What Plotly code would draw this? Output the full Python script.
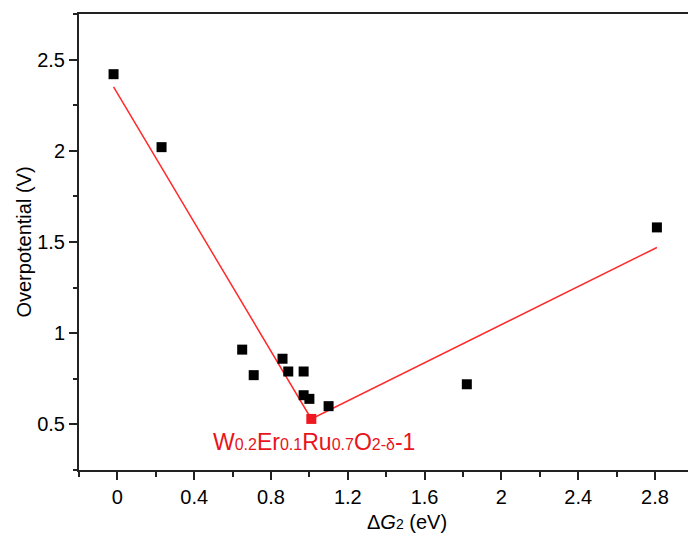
import plotly.graph_objects as go

# Catalyst descriptors: free energy of step 2 vs. OER overpotential
dg2 = [-0.02, 0.23, 0.65, 0.71, 0.86, 0.89, 0.97, 0.97, 1.00, 1.10, 1.82, 2.81]
eta = [2.42, 2.02, 0.91, 0.77, 0.86, 0.79, 0.79, 0.66, 0.64, 0.60, 0.72, 1.58]

# Highlighted catalyst
best_x = [1.01]
best_y = [0.53]
best_name = ("W<span style='font-size:16px'>0.2</span>Er<span style='font-size:16px'>0.1</span>"
             "Ru<span style='font-size:16px'>0.7</span>O<span style='font-size:16px'>2-δ</span>-1")

# Volcano guide line
fit_x = [-0.02, 1.01, 2.81]
fit_y = [2.35, 0.53, 1.47]

FONT = "Arial, Liberation Sans, sans-serif"
RED_LINE = "#ff2a2a"
RED_TEXT = "#e8141c"

fig = go.Figure()
fig.add_trace(go.Scatter(x=fit_x, y=fit_y, mode="lines",
                         line=dict(color=RED_LINE, width=1.5), hoverinfo="skip"))
fig.add_trace(go.Scatter(x=dg2, y=eta, mode="markers",
                         marker=dict(symbol="square", size=10, color="black")))
fig.add_trace(go.Scatter(x=best_x, y=best_y, mode="markers",
                         marker=dict(symbol="square", size=10, color="#f01820")))

fig.add_annotation(x=best_x[0] + 0.015, y=best_y[0] - 0.125, xref="x", yref="y",
                   text=best_name, showarrow=False, xanchor="center", yanchor="middle",
                   font=dict(family=FONT, size=23, color=RED_TEXT))

fig.add_annotation(x=1.51, y=-0.113, xref="x", yref="paper",
                   text="Δ<i>G</i><span style='font-size:14px'>2</span> (eV)",
                   showarrow=False, xanchor="center", yanchor="middle",
                   font=dict(family=FONT, size=20, color="black"))

fig.update_layout(
    width=688, height=540,
    margin=dict(l=79, r=0, t=14, b=70),
    paper_bgcolor="white", plot_bgcolor="white",
    showlegend=False,
    font=dict(family=FONT, size=20, color="black"),
)

fig.update_xaxes(
    range=[-0.2, 2.972], tick0=0, dtick=0.4,
    showgrid=False, zeroline=False,
    showline=True, linecolor="#222222", linewidth=2, mirror=True,
    ticks="outside", ticklen=8, tickwidth=1.5, tickcolor="#222222",
    minor=dict(dtick=0.2, tick0=0, ticks="outside", ticklen=5, tickwidth=1.5, tickcolor="#222222"),
    tickfont=dict(family=FONT, size=20, color="black"),
)
fig.update_yaxes(
    range=[0.25, 2.75], tick0=0, dtick=0.5,
    showgrid=False, zeroline=False,
    showline=True, linecolor="#222222", linewidth=2,
    ticks="outside", ticklen=8, tickwidth=1.5, tickcolor="#222222",
    minor=dict(dtick=0.25, tick0=0, ticks="outside", ticklen=4, tickwidth=1.5, tickcolor="#222222"),
    tickfont=dict(family=FONT, size=20, color="black"),
    title=dict(text="Overpotential (V)", font=dict(family=FONT, size=20, color="black"), standoff=0),
)

fig.write_html("out.html")
